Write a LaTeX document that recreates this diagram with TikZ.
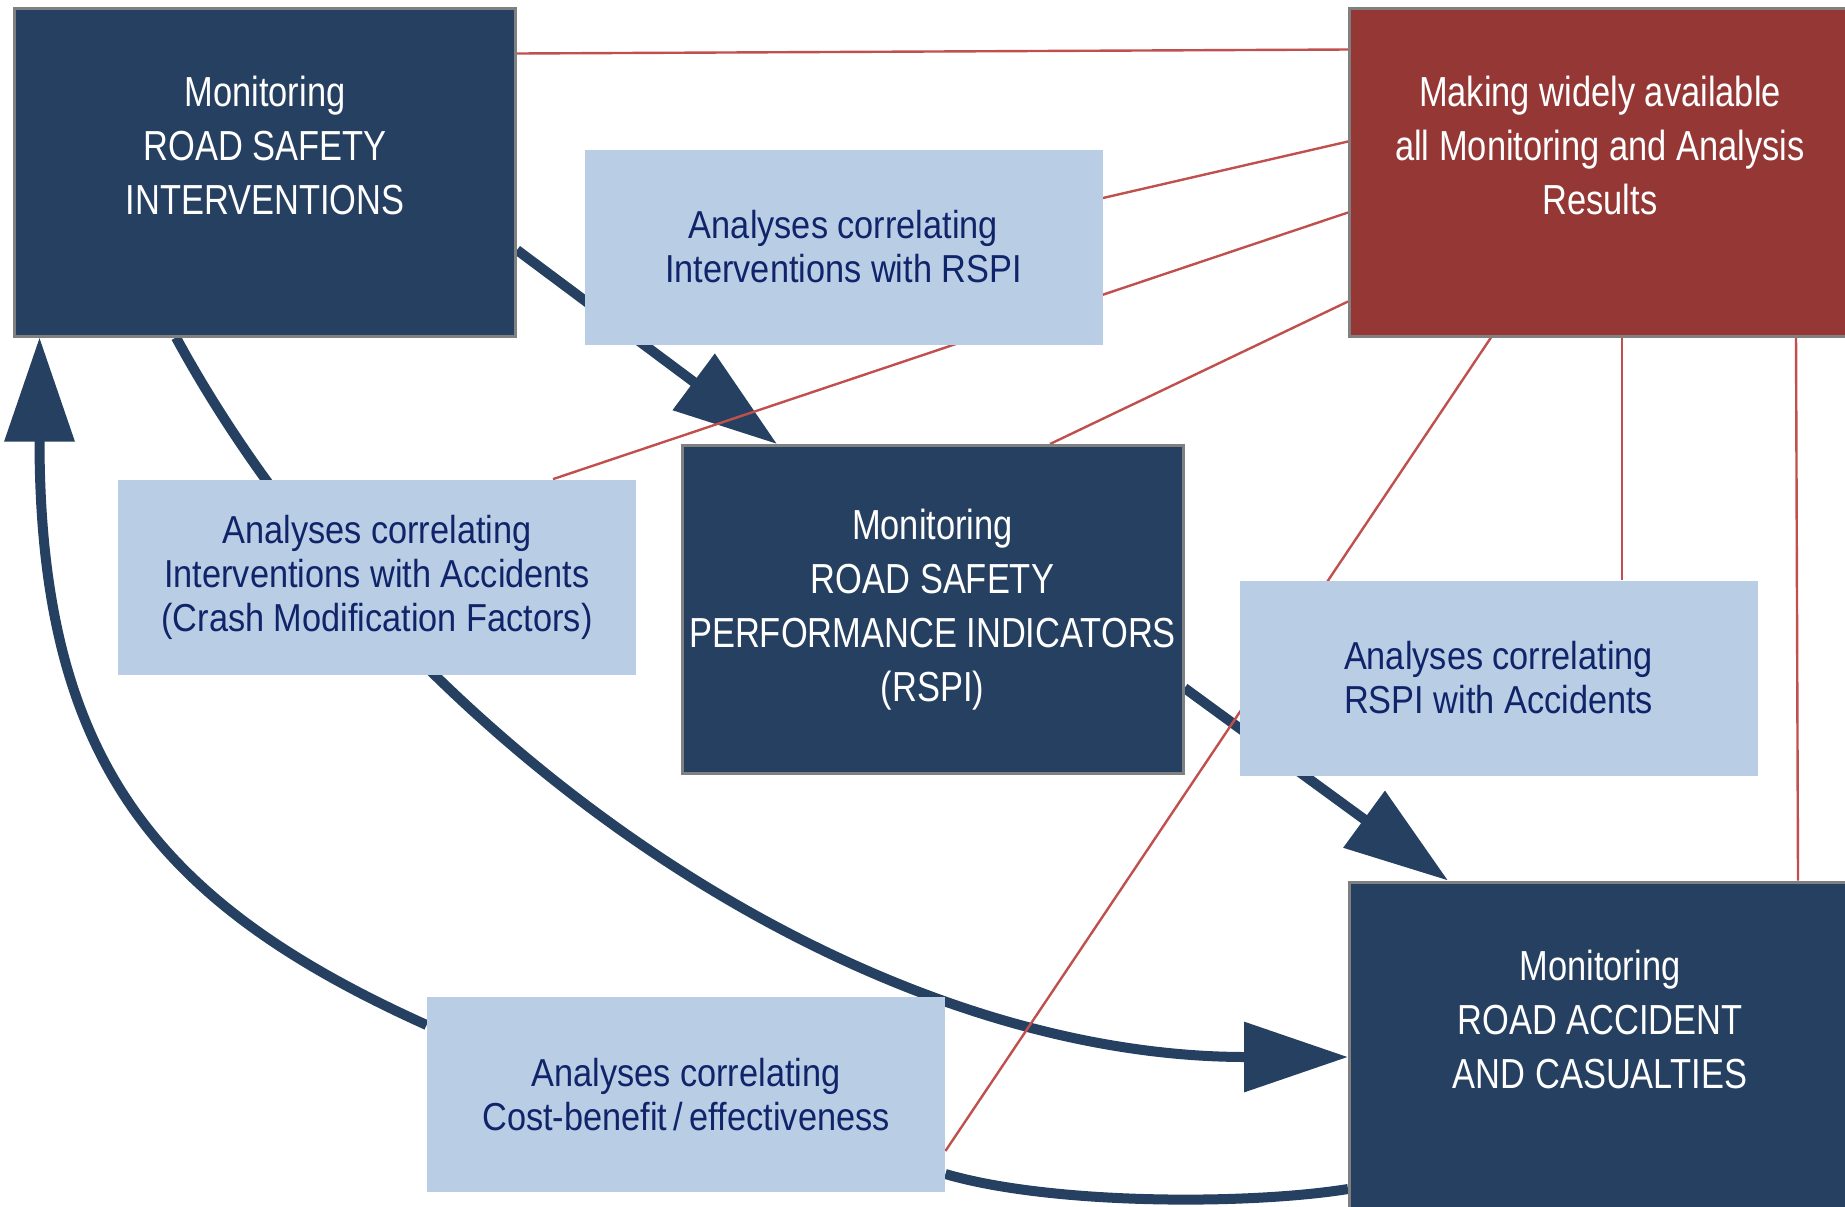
\documentclass[tikz,border=0pt]{standalone}
\usepackage{fontspec}
\setmainfont{Liberation Sans}[FakeStretch=0.82]
\newfontfamily\lightfont{Liberation Sans}[FakeStretch=0.88]
\usetikzlibrary{calc,arrows.meta}
\pgfdeclarelayer{background}
\pgfsetlayers{background,main}
\definecolor{Navy}{HTML}{264061}
\definecolor{Pale}{HTML}{B9CDE5}
\definecolor{Brick}{HTML}{953735}
\definecolor{Wire}{HTML}{C0504D}
\definecolor{Ink}{HTML}{10246A}
\newcommand{\Px}{0.5pt}
\tikzset{Monitor/.style={
    inner sep=0pt,
    minimum width=250.5pt,
    minimum height=164pt,
    draw=gray,
    line width=1.5pt,
    fill=Navy,
    text=white,
    align=center,
    font=\fontsize{21}{27}\selectfont,
    },
  Analysis/.style={
    inner sep=0pt,
    minimum width=259pt,
    minimum height=97.5pt,
    fill=Pale,
    text=Ink,
    align=center,
    font=\lightfont\fontsize{19.5}{22}\selectfont,
    },
  Flow/.style={draw=Navy, line width=5pt, -{Triangle[length=52pt,width=34pt]}},
  Link/.style={draw=Wire, line width=1.2pt},
}

\begin{document}
\begin{tikzpicture}[x=\Px, y=-\Px]
    \useasboundingbox (0,0) rectangle (1845,1206);
    % monitoring blocks
    \node [Monitor] (Interv) at (265,172) {Monitoring\\ROAD SAFETY\\INTERVENTIONS\\\mbox{}};
    \node [Monitor,fill=Brick] (Publish) at (1600,172) {Making widely available\\all Monitoring and Analysis\\Results\\\mbox{}};
    \node [Monitor] (Rspi) at (932.5,609.5) {Monitoring\\ROAD SAFETY\\PERFORMANCE INDICATORS\\(RSPI)};
    \node [Monitor] (Accid) at (1600,1046) {Monitoring\\ROAD ACCIDENT\\AND CASUALTIES\\\mbox{}};
    % analyses
    \node [Analysis] (IntRspi) at (843.5,247) {Analyses correlating\\Interventions with RSPI};
    \node [Analysis] (IntAcc) at (377,577) {Analyses correlating\\Interventions with Accidents\\(Crash Modification Factors)};
    \node [Analysis] (RspiAcc) at (1498.5,678) {Analyses correlating\\RSPI with Accidents};
    \node [Analysis] (Cost) at (686,1094.5) {Analyses correlating\\Cost-benefit\,/\,effectiveness};
    \begin{pgfonlayer}{background}
        % main flow
        \draw [Flow] ($(Interv.east)+(0,78)$) -- ($(Rspi.north)+(-155.5,0)$);
        \draw [Flow] ($(Rspi.east)+(0,78.5)$) -- ($(Accid.north)+(-152,0)$);
        \draw [Flow] ($(Interv.south)+(-89,0)$) .. controls +(215,395) and +(-500,0) .. ($(Accid.west)+(0,11)$);
        \draw [Flow] ($(Cost.west)+(0,-69.5)$) .. controls +(-273,-123) and +(0,420) .. ($(Interv.south west)+(26.5,0)$);
        \draw [Flow,-] ($(Cost.east)+(0,79.5)$) .. controls +(106,31) and +(-100,16) .. ($(Accid.west)+(0,143)$);
        % links to publishing
        \draw [Link] ($(Interv.north east)+(0,47)$) -- ($(Publish.north west)+(0,43)$);
        \draw [Link] ($(Publish.north west)+(0,135)$) -- ($(IntRspi.east)+(0,-49)$);
        \draw [Link] ($(Publish.north west)+(0,206)$) -- ($(IntAcc.north)+(176,0)$);
        \draw [Link] ($(Publish.north west)+(0,295)$) -- ($(Rspi.north)+(117.5,0)$);
        \draw [Link] ($(Publish.south)+(-109,0)$) -- ($(Cost.east)+(0,56.5)$);
        \draw [Link] ($(Publish.south)+(22,0)$) -- ($(RspiAcc.north)+(123.5,0)$);
        \draw [Link] ($(Publish.south)+(196,0)$) -- ($(Accid.north)+(198,0)$);
    \end{pgfonlayer}
\end{tikzpicture}
\end{document}
